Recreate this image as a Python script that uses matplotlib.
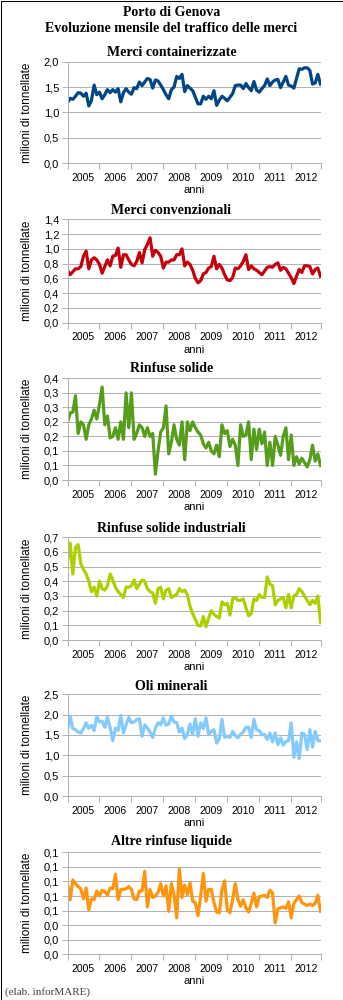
import matplotlib.pyplot as plt
from matplotlib.patches import Rectangle
import numpy as np

# dati mensili gen 2005 - dic 2012, milioni di tonnellate
anni = ['2005', '2006', '2007', '2008', '2009', '2010', '2011', '2012']
mesi = list(range(96))

containerizzate = [1.19, 1.28, 1.26, 1.32, 1.39, 1.38, 1.32, 1.38, 1.13, 1.24, 1.54, 1.35,
                   1.40, 1.27, 1.35, 1.45, 1.39, 1.45, 1.40, 1.47, 1.21, 1.39, 1.47, 1.40,
                   1.36, 1.49, 1.47, 1.60, 1.53, 1.60, 1.67, 1.65, 1.48, 1.64, 1.62, 1.54,
                   1.45, 1.35, 1.27, 1.45, 1.50, 1.71, 1.67, 1.75, 1.41, 1.53, 1.48, 1.43,
                   1.30, 1.17, 1.17, 1.32, 1.26, 1.32, 1.27, 1.43, 1.14, 1.24, 1.32, 1.28,
                   1.23, 1.30, 1.37, 1.53, 1.54, 1.54, 1.47, 1.57, 1.49, 1.43, 1.61, 1.44,
                   1.40, 1.47, 1.53, 1.66, 1.53, 1.60, 1.64, 1.65, 1.49, 1.60, 1.71, 1.54,
                   1.52, 1.48, 1.67, 1.86, 1.85, 1.88, 1.88, 1.83, 1.56, 1.58, 1.75, 1.56]

convenzionali = [0.71, 0.65, 0.69, 0.73, 0.73, 0.76, 0.90, 0.97, 0.73, 0.85, 0.88, 0.85,
                 0.79, 0.67, 0.76, 0.85, 0.77, 0.90, 0.91, 1.01, 0.75, 0.92, 0.92, 0.85,
                 0.79, 0.77, 0.83, 0.95, 0.81, 0.99, 1.06, 1.15, 0.90, 0.98, 0.95, 0.90,
                 0.74, 0.82, 0.82, 0.85, 0.85, 0.92, 0.92, 1.00, 0.77, 0.82, 0.79, 0.71,
                 0.60, 0.54, 0.57, 0.66, 0.68, 0.74, 0.76, 0.90, 0.73, 0.79, 0.74, 0.65,
                 0.58, 0.57, 0.61, 0.74, 0.73, 0.77, 0.83, 0.92, 0.72, 0.77, 0.73, 0.71,
                 0.68, 0.65, 0.70, 0.75, 0.76, 0.75, 0.79, 0.81, 0.71, 0.75, 0.73, 0.67,
                 0.61, 0.53, 0.63, 0.72, 0.68, 0.77, 0.77, 0.76, 0.66, 0.72, 0.74, 0.63]

rinfuse_solide = [0.200, 0.230, 0.234, 0.290, 0.160, 0.200, 0.190, 0.140, 0.190, 0.210, 0.240, 0.210,
                  0.260, 0.320, 0.190, 0.220, 0.145, 0.150, 0.180, 0.140, 0.200, 0.140, 0.300, 0.180,
                  0.300, 0.140, 0.160, 0.190, 0.180, 0.150, 0.180, 0.150, 0.160, 0.020, 0.100, 0.165,
                  0.180, 0.255, 0.090, 0.130, 0.190, 0.140, 0.120, 0.200, 0.070, 0.200, 0.170, 0.200,
                  0.180, 0.165, 0.155, 0.125, 0.110, 0.130, 0.100, 0.090, 0.120, 0.080, 0.190, 0.160,
                  0.170, 0.115, 0.140, 0.120, 0.050, 0.190, 0.150, 0.155, 0.200, 0.070, 0.175, 0.105,
                  0.175, 0.125, 0.165, 0.050, 0.130, 0.050, 0.150, 0.120, 0.085, 0.150, 0.180, 0.070,
                  0.155, 0.050, 0.080, 0.055, 0.075, 0.060, 0.045, 0.070, 0.120, 0.065, 0.090, 0.050]

solide_industriali = [0.54, 0.66, 0.45, 0.63, 0.65, 0.52, 0.48, 0.45, 0.40, 0.33, 0.36, 0.30,
                      0.40, 0.35, 0.34, 0.37, 0.45, 0.41, 0.36, 0.33, 0.31, 0.29, 0.36, 0.36,
                      0.37, 0.41, 0.35, 0.38, 0.41, 0.40, 0.35, 0.33, 0.32, 0.25, 0.35, 0.36,
                      0.28, 0.34, 0.35, 0.29, 0.30, 0.31, 0.35, 0.33, 0.34, 0.31, 0.23, 0.18,
                      0.14, 0.10, 0.095, 0.16, 0.09, 0.15, 0.20, 0.175, 0.16, 0.15, 0.26, 0.24,
                      0.25, 0.17, 0.28, 0.29, 0.27, 0.27, 0.28, 0.22, 0.165, 0.18, 0.28, 0.27,
                      0.31, 0.29, 0.29, 0.43, 0.38, 0.37, 0.24, 0.27, 0.28, 0.29, 0.22, 0.31,
                      0.22, 0.30, 0.31, 0.35, 0.33, 0.30, 0.27, 0.24, 0.27, 0.25, 0.30, 0.12]

oli_minerali = [1.61, 1.96, 1.66, 1.63, 1.57, 1.55, 1.66, 1.80, 1.66, 1.74, 1.61, 1.96,
                1.82, 1.84, 1.69, 1.93, 1.69, 1.36, 1.67, 1.61, 1.98, 1.55, 1.75, 1.93,
                1.80, 1.82, 1.88, 1.90, 1.47, 1.75, 1.67, 1.57, 1.44, 1.67, 1.80, 1.75,
                1.92, 1.74, 1.77, 1.96, 1.82, 1.80, 1.57, 1.67, 1.41, 1.51, 1.77, 1.51,
                1.90, 1.47, 1.80, 1.66, 1.92, 1.51, 1.59, 1.63, 1.30, 1.41, 1.88, 1.44,
                1.47, 1.44, 1.59, 1.49, 1.43, 1.52, 1.57, 1.69, 1.69, 1.44, 1.88, 1.63,
                1.61, 1.51, 1.51, 1.39, 1.55, 1.33, 1.55, 1.26, 1.43, 1.25, 1.34, 1.36,
                1.80, 0.95, 1.33, 0.92, 1.55, 1.51, 1.14, 1.63, 1.20, 1.59, 1.36, 1.36]

altre_liquide = [0.097, 0.075, 0.102, 0.097, 0.093, 0.090, 0.076, 0.091, 0.061, 0.076, 0.075, 0.087,
                 0.080, 0.088, 0.086, 0.081, 0.091, 0.090, 0.110, 0.075, 0.089, 0.089, 0.090, 0.093,
                 0.089, 0.076, 0.075, 0.087, 0.087, 0.114, 0.065, 0.089, 0.078, 0.080, 0.085, 0.097,
                 0.080, 0.094, 0.059, 0.097, 0.082, 0.050, 0.117, 0.078, 0.095, 0.082, 0.098, 0.073,
                 0.071, 0.053, 0.080, 0.111, 0.073, 0.089, 0.089, 0.071, 0.058, 0.057, 0.088, 0.101,
                 0.061, 0.057, 0.075, 0.097, 0.075, 0.066, 0.075, 0.064, 0.058, 0.070, 0.084, 0.065,
                 0.079, 0.080, 0.081, 0.078, 0.088, 0.084, 0.043, 0.062, 0.064, 0.065, 0.063, 0.072,
                 0.050, 0.070, 0.075, 0.080, 0.071, 0.069, 0.067, 0.069, 0.067, 0.070, 0.081, 0.059]

titoli = ['Merci containerizzate', 'Merci convenzionali', 'Rinfuse solide',
          'Rinfuse solide industriali', 'Oli minerali', 'Altre rinfuse liquide']
serie = [containerizzate, convenzionali, rinfuse_solide, solide_industriali,
         oli_minerali, altre_liquide]
yticks = [[0, 0.5, 1.0, 1.5, 2.0],
          [0, 0.2, 0.4, 0.6, 0.8, 1.0, 1.2, 1.4],
          [0, 0.05, 0.10, 0.15, 0.20, 0.25, 0.30, 0.35],
          [0, 0.1, 0.2, 0.3, 0.4, 0.5, 0.6, 0.7],
          [0, 0.5, 1.0, 1.5, 2.0, 2.5],
          [0, 0.02, 0.04, 0.06, 0.08, 0.10, 0.12, 0.14]]
yticklabels = [['0,0', '0,5', '1,0', '1,5', '2,0'],
               ['0,0', '0,2', '0,4', '0,6', '0,8', '1,0', '1,2', '1,4'],
               ['0,0', '0,1', '0,1', '0,2', '0,2', '0,3', '0,3', '0,4'],
               ['0,0', '0,1', '0,2', '0,3', '0,4', '0,5', '0,6', '0,7'],
               ['0,0', '0,5', '1,0', '1,5', '2,0', '2,5'],
               ['0,0', '0,0', '0,0', '0,1', '0,1', '0,1', '0,1', '0,1']]

colori = ['#004586', '#c5000b', '#579d1c', '#aecf00', '#83caff', '#ff950e']
# posizioni in pixel: (alto, basso) dell'area del grafico, y del titolo
aree = [(61.7, 163.3), (219.3, 322.7), (378.3, 480.0),
        (537.3, 640.0), (694.3, 796.0), (852.3, 954.3)]
ytitoli = [52, 210.7, 368, 528, 686, 841.7]

W, H = 343, 1000
fig = plt.figure(figsize=(W / 100, H / 100), dpi=100, facecolor='white')
fig.patches.append(Rectangle((0.5 / W, 0.5 / H), 1 - 1 / W, 1 - 1 / H, transform=fig.transFigure,
                             fill=False, edgecolor='black', linewidth=0.75))

serif = 'Liberation Serif'
sans = 'Liberation Sans'
grigio = '#b3b3b3'

fig.text(171.5 / W, 1 - 13 / H, 'Porto di Genova', ha='center', va='center',
         family=serif, fontsize=10, fontweight='bold')
fig.text(171.5 / W, 1 - 29 / H, 'Evoluzione mensile del traffico delle merci', ha='center',
         va='center', family=serif, fontsize=10, fontweight='bold')

x0, x1 = 67.5, 320.5
xmaj = [0, 12, 24, 36, 48, 60, 72, 84, 95]
xmin = [(a + b) / 2 for a, b in zip(xmaj[:-1], xmaj[1:])]

for i in range(6):
    top, bot = aree[i]
    hpx = bot - top
    ax = fig.add_axes([x0 / W, 1 - bot / H, (x1 - x0) / W, hpx / H])
    ax.plot(mesi, serie[i], color=colori[i], linewidth=2.3, solid_joinstyle='round')
    ax.set_xlim(0, 95)
    ax.set_ylim(0, yticks[i][-1])
    ax.set_yticks(yticks[i])
    ax.set_yticklabels(yticklabels[i], family=sans, fontsize=8)
    ax.set_xticks(xmaj)
    ax.set_xticklabels([])
    ax.set_xticks(xmin, minor=True)
    ax.set_xticklabels(anni, minor=True, family=sans, fontsize=7.5)
    ax.tick_params(axis='x', which='major', length=4.5, color=grigio, width=0.75)
    ax.tick_params(axis='x', which='minor', length=0, pad=7)
    ax.tick_params(axis='y', length=4.5, color=grigio, width=0.75, pad=1.5)
    ax.grid(axis='y', color=grigio, linewidth=0.75)
    ax.set_axisbelow(True)
    for s in ['top', 'right']:
        ax.spines[s].set_visible(False)
    for s in ['left', 'bottom']:
        ax.spines[s].set_color(grigio)
        ax.spines[s].set_linewidth(0.75)
    ax.set_ylabel('milioni di tonnellate', family=sans, fontsize=8.5, va='center')
    ax.yaxis.set_label_coords((27 - x0) / (x1 - x0), 0.5)
    ax.set_xlabel('anni', family=sans, fontsize=8, va='center')
    ax.xaxis.set_label_coords(0.5, -27 / hpx)
    fig.text(171.5 / W, 1 - ytitoli[i] / H, titoli[i], ha='center', va='center',
             family=serif, fontsize=10, fontweight='bold')

fig.text(5 / W, 1 - 992 / H, '(elab. inforMARE)', ha='left', va='center',
         family=serif, fontsize=8, color='#404040')

fig.savefig('out.png', dpi=100)
